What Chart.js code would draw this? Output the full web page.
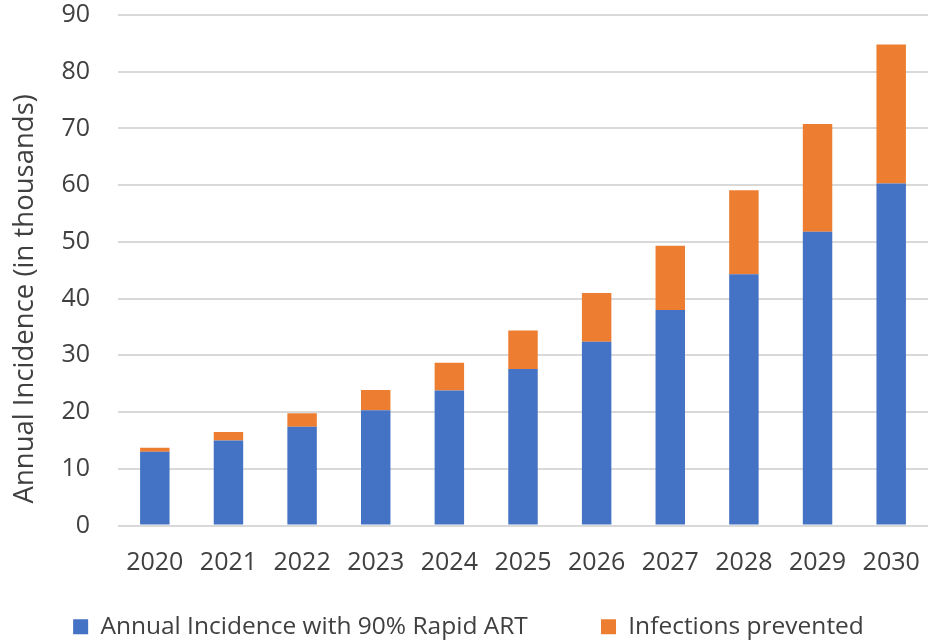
<!DOCTYPE html>
<html>
<head>
<meta charset="utf-8">
<script src="https://cdn.jsdelivr.net/npm/chart.js@4"></script>
<style>
  html, body { margin: 0; padding: 0; background: #fff; }
  #wrap { width: 935px; height: 643px; }
</style>
</head>
<body>
<div id="wrap"><canvas id="incidenceChart"></canvas></div>
<script>
// Years on the x axis
const years = ['2020', '2021', '2022', '2023', '2024', '2025', '2026', '2027', '2028', '2029', '2030'];

// Annual incidence with 90% rapid ART (thousands)
const incidenceRapidArt = [13.0, 15.0, 17.4, 20.3, 23.8, 27.6, 32.4, 38.0, 44.3, 51.8, 60.3];

// Infections prevented (thousands), stacked on top
const infectionsPrevented = [0.7, 1.5, 2.4, 3.6, 4.9, 6.8, 8.6, 11.3, 14.8, 19.0, 24.5];

const textColor = '#404040';
const fontFamily = "'Open Sans', 'Noto Sans', sans-serif";

const ctx = document.getElementById('incidenceChart').getContext('2d');
new Chart(ctx, {
    type: 'bar',
    data: {
        labels: years,
        datasets: [{
            // trailing spaces widen the gap between the two legend items
            label: 'Annual Incidence with 90% Rapid ART      ',
            data: incidenceRapidArt,
            backgroundColor: '#4472C4',
            barPercentage: 0.4,
            categoryPercentage: 1
        }, {
            label: 'Infections prevented',
            data: infectionsPrevented,
            backgroundColor: '#ED7D31',
            barPercentage: 0.4,
            categoryPercentage: 1
        }]
    },
    options: {
        responsive: true,
        maintainAspectRatio: false,
        animation: false,
        layout: { padding: { left: 9, right: 7, top: 0, bottom: -6 } },
        plugins: {
            tooltip: { enabled: false },
            legend: {
                position: 'bottom',
                labels: {
                    boxWidth: 15,
                    boxHeight: 15,
                    padding: 35,
                    color: textColor,
                    font: { family: fontFamily, size: 24.5 }
                }
            }
        },
        scales: {
            x: {
                stacked: true,
                grid: { display: false, drawTicks: false },
                border: { display: false },
                ticks: {
                    color: textColor,
                    padding: 22,
                    font: { family: fontFamily, size: 25 }
                },
                afterFit: (scale) => {
                    scale.height = 54;
                    scale.paddingLeft = 0;
                    scale.paddingRight = 0;
                }
            },
            y: {
                stacked: true,
                min: 0,
                max: 90,
                border: { display: false },
                grid: { color: '#d9d9d9', lineWidth: 2, drawTicks: false },
                ticks: {
                    stepSize: 10,
                    color: textColor,
                    padding: 28,
                    font: { family: fontFamily, size: 25 }
                },
                title: {
                    display: true,
                    // trailing spaces nudge the title down, as in the original
                    text: 'Annual Incidence (in thousands)        ',
                    color: textColor,
                    padding: 0,
                    font: { family: fontFamily, size: 27.5 }
                },
                afterFit: (scale) => {
                    scale.width = 109;
                    scale.paddingTop = 15;
                    scale.paddingBottom = 0;
                }
            }
        }
    }
});
</script>
</body>
</html>
